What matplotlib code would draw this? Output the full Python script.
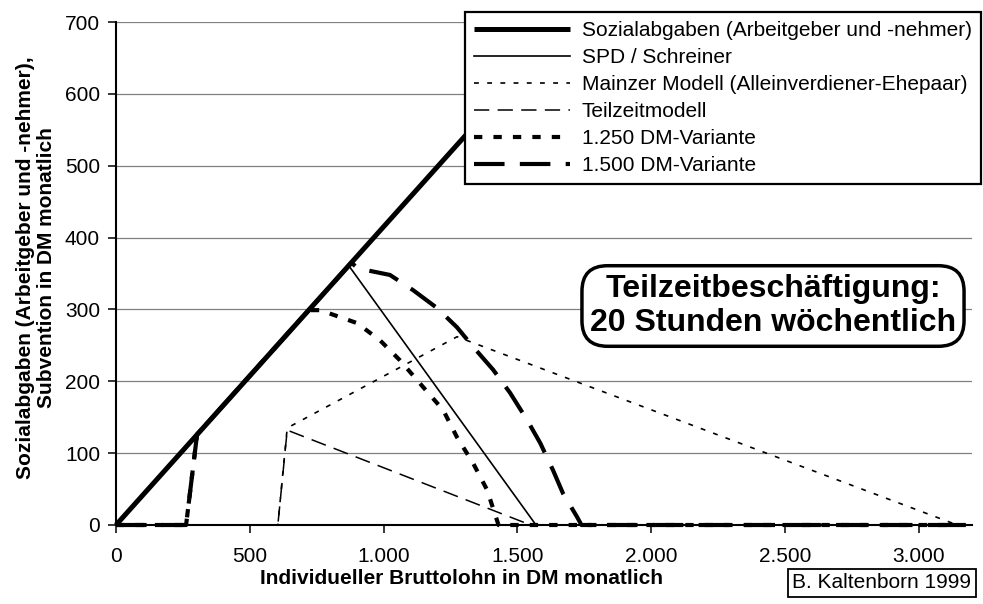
import matplotlib
matplotlib.use("Agg")
import matplotlib.pyplot as plt
from matplotlib.ticker import FuncFormatter, MultipleLocator

plt.rcParams["font.family"] = ["Liberation Sans", "DejaVu Sans"]
plt.rcParams["lines.scale_dashes"] = False

# Sozialabgaben (Arbeitgeber und -nehmer)
soz_x = [0, 1687]
soz_y = [0, 700]
# SPD / Schreiner
spd_x = [0, 870, 1570, 3200]
spd_y = [0, 361, 0, 0]
# Mainzer Modell (Alleinverdiener-Ehepaar)
mainz_x = [0, 605, 640, 1275, 3145, 3200]
mainz_y = [0, 0, 135, 262, 0, 0]
# Teilzeitmodell
teil_x = [0, 605, 640, 1550, 3200]
teil_y = [0, 0, 132, 0, 0]
# 1.250 DM-Variante
v1250_x = [0, 262, 303, 720, 763, 901, 987, 1062, 1148, 1223, 1275, 1335, 1387, 1430, 3200]
v1250_y = [0, 0, 126, 299, 299, 281, 257, 229, 192, 160, 122, 86, 49, 0, 0]
# 1.500 DM-Variante
v1500_x = [0, 262, 303, 880, 905, 1024, 1110, 1200, 1275, 1335, 1410, 1473, 1537, 1586,
           1634, 1671, 1724, 1740, 3200]
v1500_y = [0, 0, 126, 365, 357, 348, 327, 302, 275, 248, 216, 184, 146, 114, 76, 44, 11, 0, 0]

labels = [
    "Sozialabgaben (Arbeitgeber und -nehmer)",
    "SPD / Schreiner",
    "Mainzer Modell (Alleinverdiener-Ehepaar)",
    "Teilzeitmodell",
    "1.250 DM-Variante",
    "1.500 DM-Variante",
]

fig = plt.figure(figsize=(9.83, 6.04), dpi=100)
ax = fig.add_axes([116 / 983, 1 - 525 / 604, (972 - 116) / 983, (525 - 22) / 604])

ax.plot(soz_x, soz_y, color="black", lw=3.6, solid_capstyle="butt", label=labels[0], clip_on=False, zorder=5)
ax.plot(spd_x, spd_y, color="black", lw=1.2, label=labels[1], clip_on=False, zorder=4)
ax.plot(mainz_x, mainz_y, color="black", lw=1.2, linestyle=(0, (3.5, 6)), label=labels[2], clip_on=False, zorder=4)
ax.plot(teil_x, teil_y, color="black", lw=1.1, linestyle=(0, (11, 6)), label=labels[3], clip_on=False, zorder=4)
ax.plot(v1250_x, v1250_y, color="black", lw=3.0, linestyle=(0, (6, 8)), label=labels[4], clip_on=False, zorder=4)
ax.plot(v1500_x, v1500_y, color="black", lw=3.0, linestyle=(0, (22, 11)), label=labels[5], clip_on=False, zorder=4)

ax.set_xlim(0, 3200)
ax.set_ylim(0, 700)
ax.xaxis.set_major_locator(MultipleLocator(500))
ax.yaxis.set_major_locator(MultipleLocator(100))
ax.xaxis.set_major_formatter(FuncFormatter(lambda v, p: f"{int(v):,}".replace(",", ".")))
ax.tick_params(axis="both", direction="out", length=5.5, width=1.1, labelsize=15, color="black")
ax.tick_params(axis="x", pad=10)
ax.tick_params(axis="y", pad=6)
ax.grid(axis="y", color="#808080", lw=0.9)
ax.set_axisbelow(True)
for side in ["top", "right"]:
    ax.spines[side].set_visible(False)
for side in ["left", "bottom"]:
    ax.spines[side].set_linewidth(1.5)

leg = ax.legend(
    loc="upper right",
    bbox_to_anchor=(981 / 983, 1 - 12 / 604),
    bbox_transform=fig.transFigure,
    borderaxespad=0,
    fontsize=15,
    handlelength=4.6,
    handletextpad=0.55,
    labelspacing=0.38,
    borderpad=0.45,
    fancybox=False,
    framealpha=1,
    edgecolor="black",
)
leg.get_frame().set_linewidth(1.6)
leg.set_zorder(10)

fig.text(
    773 / 983, 1 - 306 / 604,
    "Teilzeitbeschäftigung:\n20 Stunden wöchentlich",
    ha="center", va="center", fontsize=23, fontweight="bold", linespacing=1.2,
    bbox=dict(boxstyle="round,pad=0.25,rounding_size=0.8", facecolor="white", edgecolor="black", lw=2.5),
    zorder=10,
)

fig.text(461 / 983, 1 - 578 / 604, "Individueller Bruttolohn in DM monatlich",
         ha="center", va="center", fontsize=15, fontweight="bold")
fig.text(36 / 983, 1 - 268 / 604, "Sozialabgaben (Arbeitgeber und -nehmer),\nSubvention in DM monatlich",
         ha="center", va="center", rotation=90, fontsize=15, fontweight="bold", linespacing=1.15)

fig.text(882 / 983, 1 - 583 / 604, "B. Kaltenborn 1999", ha="center", va="center", fontsize=15,
         bbox=dict(boxstyle="square,pad=0.2", facecolor="white", edgecolor="black", lw=1.3))

fig.savefig("out.png", dpi=100)
plt.close(fig)
